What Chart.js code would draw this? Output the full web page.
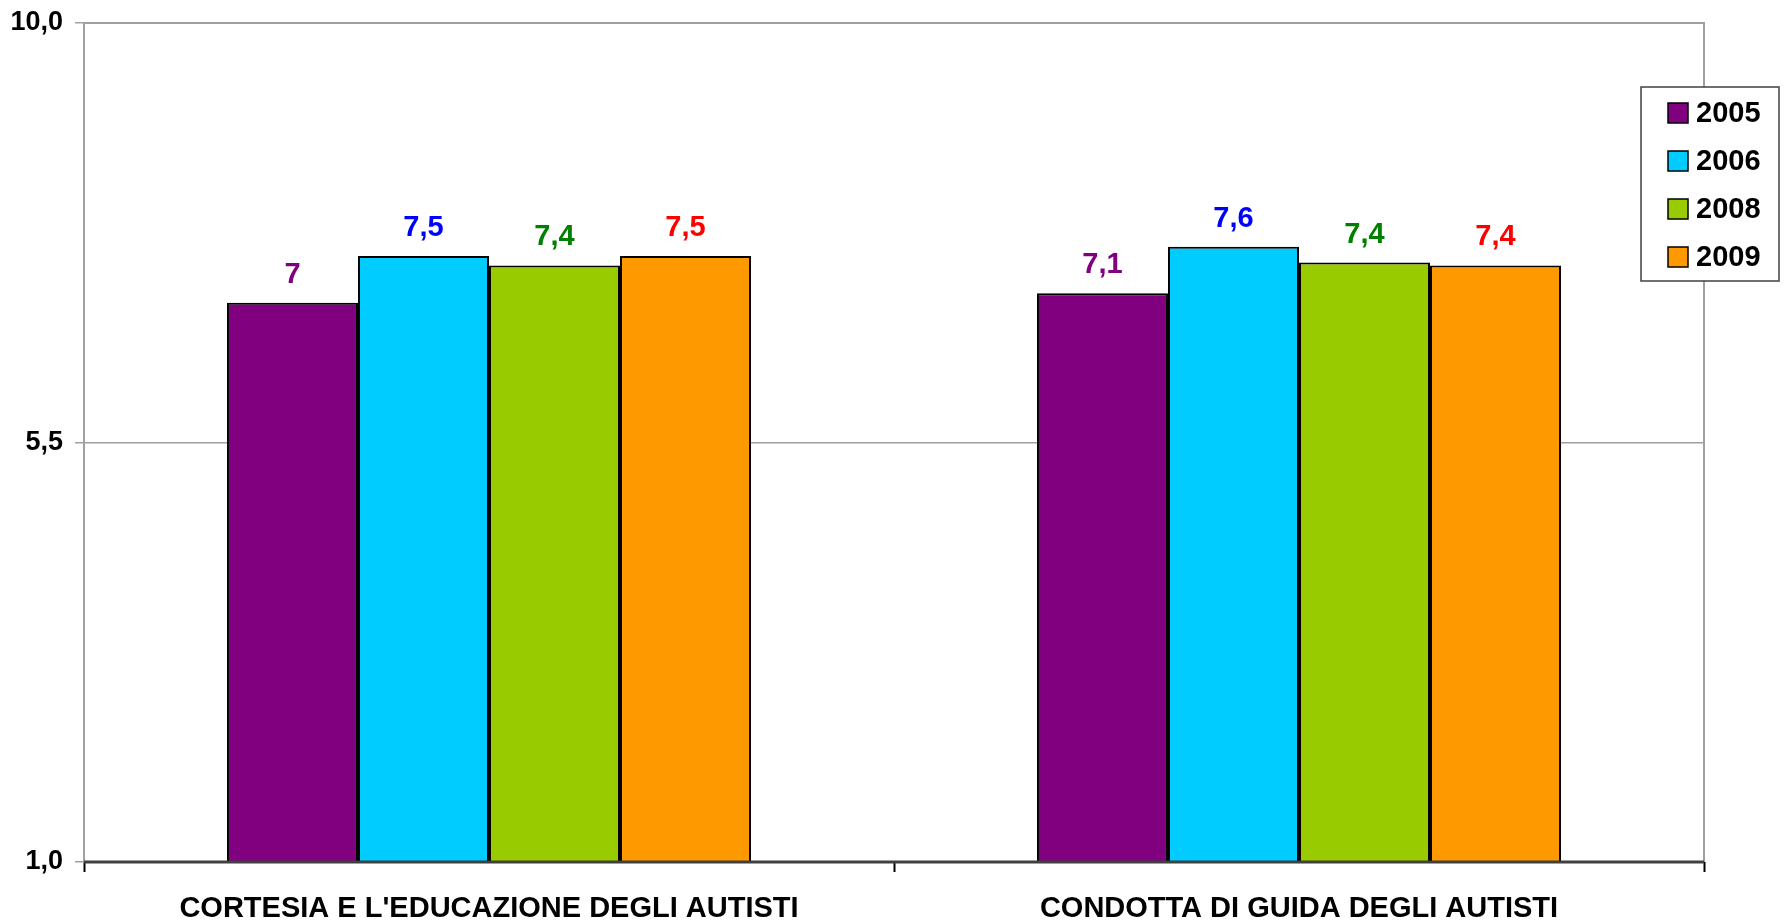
<!DOCTYPE html>
<html>
<head>
<meta charset="utf-8">
<script src="https://cdn.jsdelivr.net/npm/chart.js@4"></script>
<style>
    html, body { margin: 0; padding: 0; background: #fff; }
    #wrap { width: 1785px; height: 923px; position: relative; }
</style>
</head>
<body>
<div id="wrap"><canvas id="barChart"></canvas></div>
<script>
// Data
const categories = ["CORTESIA E L'EDUCAZIONE DEGLI AUTISTI", "CONDOTTA DI GUIDA DEGLI AUTISTI"];
const years = ["2005", "2006", "2008", "2009"];
const values2005 = [7.0, 7.1];
const values2006 = [7.5, 7.6];
const values2008 = [7.4, 7.43];
const values2009 = [7.5, 7.4];
const yTicks = [1, 5.5, 10];

const barColors = ['#800080', '#00CCFF', '#99CC00', '#FF9900'];
const labelColors = ['#800080', '#0000FF', '#008000', '#FF0000'];
const FONT = '"Liberation Sans", Arial, sans-serif';

const fmt = (v) => String(Math.round(v * 10) / 10).replace('.', ',');

// value labels above each bar
const valueLabels = {
    id: 'valueLabels',
    afterDatasetsDraw(chart) {
        const ctx = chart.ctx;
        ctx.save();
        ctx.font = 'bold 29px ' + FONT;
        ctx.textAlign = 'center';
        ctx.textBaseline = 'alphabetic';
        chart.data.datasets.forEach((ds, i) => {
            const meta = chart.getDatasetMeta(i);
            ctx.fillStyle = labelColors[i];
            meta.data.forEach((bar, j) => {
                ctx.fillText(fmt(ds.data[j]), bar.x, bar.y - 20);
            });
        });
        ctx.restore();
    }
};

// plot frame + floating legend box
const frameAndLegend = {
    id: 'frameAndLegend',
    beforeDatasetsDraw(chart) {
        const { ctx, chartArea: a } = chart;
        ctx.save();
        ctx.strokeStyle = '#a0a0a0';
        ctx.lineWidth = 2;
        ctx.beginPath();
        ctx.moveTo(a.left, a.bottom);
        ctx.lineTo(a.left, a.top);
        ctx.lineTo(a.right, a.top);
        ctx.lineTo(a.right, a.bottom);
        ctx.stroke();
        ctx.restore();
    },
    afterDatasetsDraw(chart) {
        const { ctx, chartArea: a } = chart;
        ctx.save();
        // dark bottom axis line
        ctx.strokeStyle = '#404040';
        ctx.lineWidth = 3;
        ctx.beginPath();
        ctx.moveTo(a.left, a.bottom);
        ctx.lineTo(a.right, a.bottom);
        ctx.stroke();

        // legend
        const lx = a.right - 63, ly = 87, lw = 138, lh = 194;
        ctx.fillStyle = '#fff';
        ctx.fillRect(lx, ly, lw, lh);
        ctx.strokeStyle = '#404040';
        ctx.lineWidth = 1.5;
        ctx.strokeRect(lx, ly, lw, lh);
        ctx.font = 'bold 29px ' + FONT;
        ctx.textAlign = 'left';
        ctx.textBaseline = 'middle';
        chart.data.datasets.forEach((ds, i) => {
            const cy = ly + 26 + i * 48;
            ctx.fillStyle = ds.backgroundColor;
            ctx.fillRect(lx + 27, cy - 10, 20, 20);
            ctx.strokeStyle = '#000';
            ctx.lineWidth = 1.5;
            ctx.strokeRect(lx + 27, cy - 10, 20, 20);
            ctx.fillStyle = '#000';
            ctx.fillText(ds.label, lx + 55, cy + 1);
        });
        ctx.restore();
    }
};

const seriesValues = [values2005, values2006, values2008, values2009];

new Chart(document.getElementById('barChart'), {
    type: 'bar',
    data: {
        labels: categories,
        datasets: years.map((y, i) => ({
            label: y,
            data: seriesValues[i],
            backgroundColor: barColors[i],
            borderColor: '#000',
            borderWidth: 2,
            borderSkipped: false,
            barPercentage: 1.0,
            categoryPercentage: 0.647
        }))
    },
    options: {
        responsive: true,
        maintainAspectRatio: false,
        animation: false,
        layout: { padding: { top: 23, right: 81, left: 0, bottom: 0 } },
        plugins: {
            legend: { display: false },
            tooltip: { enabled: false }
        },
        scales: {
            x: {
                grid: {
                    offset: true,
                    drawOnChartArea: false,
                    drawTicks: true,
                    tickLength: 10,
                    tickColor: '#000',
                    tickWidth: 2
                },
                border: { display: false },
                ticks: {
                    color: '#000',
                    font: { family: FONT, size: 29, weight: 'bold' },
                    padding: 20,
                    maxRotation: 0,
                    autoSkip: false
                },
                afterFit(scale) { scale.height = 61; }
            },
            y: {
                min: 1,
                max: 10,
                afterBuildTicks(scale) { scale.ticks = yTicks.map(v => ({ value: v })); },
                grid: {
                    color: '#a0a0a0',
                    lineWidth: 1.5,
                    drawTicks: true,
                    tickLength: 9,
                    tickColor: '#a0a0a0'
                },
                border: { display: false },
                ticks: {
                    color: '#000',
                    font: { family: FONT, size: 27, weight: 'bold', lineHeight: 1 },
                    padding: 12,
                    callback: (v) => v.toFixed(1).replace('.', ',')
                },
                afterFit(scale) {
                    scale.width = 84;
                    scale.paddingTop = 0;
                    scale.paddingBottom = 0;
                }
            }
        }
    },
    plugins: [frameAndLegend, valueLabels]
});
</script>
</body>
</html>
